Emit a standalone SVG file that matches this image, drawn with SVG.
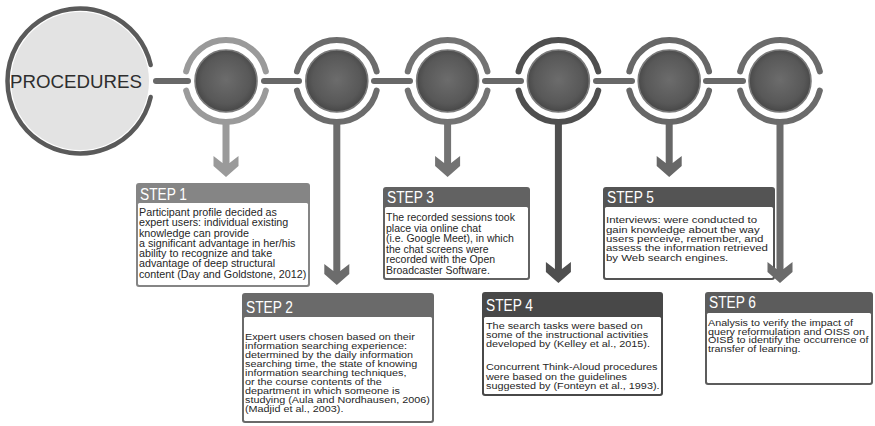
<svg xmlns="http://www.w3.org/2000/svg" xmlns:xlink="http://www.w3.org/1999/xlink" width="875" height="426" viewBox="0 0 875 426">
  <style>
    .link { stroke: #686868; stroke-width: 6; stroke-linecap: round; fill: none; }
    .ring { fill: none; stroke: currentColor; stroke-width: 6; stroke-linecap: round; }
    .hdr { font-family: "Liberation Sans", Arial, sans-serif; font-size: 16px; fill: #ffffff; }
    .body { font-family: "Liberation Sans", Arial, sans-serif; fill: #262626; }
    .title { font-family: "Liberation Sans", Arial, sans-serif; font-size: 18.5px; fill: #2e2e2e; }
  </style>
  <defs>
    <radialGradient id="core" cx="50%" cy="48%" r="52%">
      <stop offset="0" stop-color="#6c6c6c"/>
      <stop offset="0.75" stop-color="#585858"/>
      <stop offset="1" stop-color="#474747"/>
    </radialGradient>
    <!-- step node: split ring plus dark core, centred on 0,0 -->
    <g id="node">
      <path class="ring" d="M -39.87 -9.57 A 41 41 0 0 1 39.87 -9.57"/>
      <path class="ring" d="M -39.87 9.57 A 41 41 0 0 0 39.87 9.57"/>
      <circle r="31" fill="url(#core)" stroke="#7a7a7a" stroke-width="1.6"/>
    </g>
    <!-- chevron arrowhead; tip sits at local y = 0 -->
    <path id="head" d="M -12.5 -21 L -3.5 -14 L 3.5 -14 L 12.5 -21 L 12.5 -11 L 0 0 L -12.5 -11 Z"/>
  </defs>

  <!-- title circle -->
  <g id="procedures">
    <circle cx="80" cy="81" r="69" fill="#e3e3e3"/>
    <path d="M 150.7 65 A 72.5 72.5 0 1 0 150.7 97" fill="none" stroke="#5a5a5a" stroke-width="4.5" stroke-linecap="round"/>
    <text class="title" x="10" y="88" textLength="132" lengthAdjust="spacingAndGlyphs">PROCEDURES</text>
  </g>

  <!-- horizontal connectors between the circles -->
  <g id="connectors">
    <line class="link" x1="156" y1="81" x2="188" y2="81"/>
    <line class="link" x1="264" y1="81" x2="299" y2="81"/>
    <line class="link" x1="374" y1="81" x2="410" y2="81"/>
    <line class="link" x1="485" y1="81" x2="521" y2="81"/>
    <line class="link" x1="596" y1="81" x2="632" y2="81"/>
    <line class="link" x1="706" y1="81" x2="743" y2="81"/>
  </g>

  <!-- step 1 -->
  <g id="step1">
    <use xlink:href="#node" transform="translate(226 81)" style="color:#9a9a9a"/>
    <rect x="222.5" y="120" width="7" height="45" fill="#9a9a9a"/>
    <use xlink:href="#head" transform="translate(226 177)" fill="#9a9a9a"/>
    <rect x="136" y="183" width="174" height="104" rx="3" fill="#858585"/>
    <rect x="138" y="203" width="170" height="82" rx="1.5" fill="#ffffff"/>
    <text class="hdr" x="140" y="200" textLength="47" lengthAdjust="spacingAndGlyphs">STEP 1</text>
    <g transform="translate(139 0) scale(1.075 1)">
      <text class="body" font-size="10">
        <tspan x="0" y="216">Participant profile decided as</tspan>
        <tspan x="0" y="226.3">expert users: individual existing</tspan>
        <tspan x="0" y="236.6">knowledge can provide</tspan>
        <tspan x="0" y="246.9">a significant advantage in her/his</tspan>
        <tspan x="0" y="257.2">ability to recognize and take</tspan>
        <tspan x="0" y="267.5">advantage of deep structural</tspan>
        <tspan x="0" y="277.8">content (Day and Goldstone, 2012)</tspan>
      </text>
    </g>
  </g>

  <!-- step 2 -->
  <g id="step2">
    <use xlink:href="#node" transform="translate(336.8 81)" style="color:#6c6c6c"/>
    <rect x="333.3" y="120" width="7" height="153" fill="#6c6c6c"/>
    <use xlink:href="#head" transform="translate(336.8 285)" fill="#6c6c6c"/>
    <rect x="242" y="293" width="192" height="130" rx="3" fill="#6a6a6a"/>
    <rect x="244" y="317" width="188" height="104" rx="1.5" fill="#ffffff"/>
    <text class="hdr" x="246" y="313" textLength="47" lengthAdjust="spacingAndGlyphs">STEP 2</text>
    <g transform="translate(245 0) scale(1.2 1)">
      <text class="body" font-size="9">
        <tspan x="0" y="340.5">Expert users chosen based on their</tspan>
        <tspan x="0" y="349.4">information searching experience:</tspan>
        <tspan x="0" y="358.3">determined by the daily information</tspan>
        <tspan x="0" y="367.2">searching time, the state of knowing</tspan>
        <tspan x="0" y="376.1">information searching techniques,</tspan>
        <tspan x="0" y="385">or the course contents of the</tspan>
        <tspan x="0" y="393.9">department in which someone is</tspan>
        <tspan x="0" y="402.8">studying (Aula and Nordhausen, 2006)</tspan>
        <tspan x="0" y="411.7">(Madjid et al., 2003).</tspan>
      </text>
    </g>
  </g>

  <!-- step 3 -->
  <g id="step3">
    <use xlink:href="#node" transform="translate(447.6 81)" style="color:#737373"/>
    <rect x="444.1" y="120" width="7" height="45" fill="#737373"/>
    <use xlink:href="#head" transform="translate(447.6 177)" fill="#737373"/>
    <rect x="383" y="187" width="147" height="93" rx="3" fill="#626262"/>
    <rect x="385" y="207" width="143" height="71" rx="1.5" fill="#ffffff"/>
    <text class="hdr" x="387" y="203" textLength="47" lengthAdjust="spacingAndGlyphs">STEP 3</text>
    <g transform="translate(386 0) scale(1.03 1)">
      <text class="body" font-size="10.2">
        <tspan x="0" y="221.5">The recorded sessions took</tspan>
        <tspan x="0" y="232">place via online chat</tspan>
        <tspan x="0" y="242.5">(i.e. Google Meet), in which</tspan>
        <tspan x="0" y="253">the chat screens were</tspan>
        <tspan x="0" y="263.5">recorded with the Open</tspan>
        <tspan x="0" y="274">Broadcaster Software.</tspan>
      </text>
    </g>
  </g>

  <!-- step 4 -->
  <g id="step4">
    <use xlink:href="#node" transform="translate(558.4 81)" style="color:#4f4f4f"/>
    <rect x="554.9" y="120" width="7" height="151" fill="#4f4f4f"/>
    <use xlink:href="#head" transform="translate(558.4 283)" fill="#4f4f4f"/>
    <rect x="482" y="292" width="181" height="104" rx="3" fill="#484848"/>
    <rect x="484" y="317" width="177" height="77" rx="1.5" fill="#ffffff"/>
    <text class="hdr" x="486" y="311" textLength="47" lengthAdjust="spacingAndGlyphs">STEP 4</text>
    <g transform="translate(486 0) scale(1.18 1)">
      <text class="body" font-size="9.2">
        <tspan x="0" y="329">The search tasks were based on</tspan>
        <tspan x="0" y="338.2">some of the instructional activities</tspan>
        <tspan x="0" y="347.4">developed by (Kelley et al., 2015).</tspan>
        <tspan x="0" y="370.5">Concurrent Think-Aloud procedures</tspan>
        <tspan x="0" y="379.7">were based on the guidelines</tspan>
        <tspan x="0" y="388.9">suggested by (Fonteyn et al., 1993).</tspan>
      </text>
    </g>
  </g>

  <!-- step 5 -->
  <g id="step5">
    <use xlink:href="#node" transform="translate(669.2 81)" style="color:#676767"/>
    <rect x="665.7" y="120" width="7" height="45" fill="#676767"/>
    <use xlink:href="#head" transform="translate(669.2 177)" fill="#676767"/>
    <rect x="603" y="187" width="172" height="93" rx="3" fill="#545454"/>
    <rect x="605" y="207" width="168" height="71" rx="1.5" fill="#ffffff"/>
    <text class="hdr" x="607" y="203" textLength="47" lengthAdjust="spacingAndGlyphs">STEP 5</text>
    <g transform="translate(606 0) scale(1.23 1)">
      <text class="body" font-size="9.3">
        <tspan x="0" y="223.5">Interviews: were conducted to</tspan>
        <tspan x="0" y="232.8">gain knowledge about the way</tspan>
        <tspan x="0" y="242.1">users perceive, remember, and</tspan>
        <tspan x="0" y="251.4">assess the information retrieved</tspan>
        <tspan x="0" y="260.7">by Web search engines.</tspan>
      </text>
    </g>
  </g>

  <!-- step 6 -->
  <g id="step6">
    <use xlink:href="#node" transform="translate(780 81)" style="color:#6b6b6b"/>
    <rect x="776.5" y="120" width="7" height="151" fill="#6b6b6b"/>
    <use xlink:href="#head" transform="translate(780 283)" fill="#6b6b6b"/>
    <rect x="705" y="292" width="168" height="93" rx="3" fill="#5c5c5c"/>
    <rect x="707" y="313" width="164" height="70" rx="1.5" fill="#ffffff"/>
    <text class="hdr" x="709" y="308" textLength="47" lengthAdjust="spacingAndGlyphs">STEP 6</text>
    <g transform="translate(708 0) scale(1.25 1)">
      <text class="body" font-size="8.6">
        <tspan x="0" y="326.5">Analysis to verify the impact of</tspan>
        <tspan x="0" y="335">query reformulation and OISS on</tspan>
        <tspan x="0" y="343.5">OISB to identify the occurrence of</tspan>
        <tspan x="0" y="352">transfer of learning.</tspan>
      </text>
    </g>
  </g>
</svg>
